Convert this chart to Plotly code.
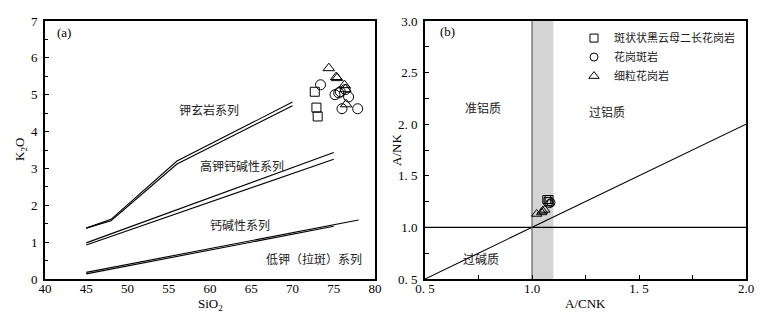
import plotly.graph_objects as go

# ---------------- data: panel (a) SiO2 vs K2O ----------------
sq_sio2 = [72.7, 72.9, 73.05]
sq_k2o = [5.08, 4.65, 4.41]
ci_sio2 = [73.4, 75.15, 75.8, 76.4, 76.8, 76.0, 77.9, 75.6]
ci_k2o = [5.27, 5.0, 5.08, 5.14, 4.94, 4.62, 4.62, 5.05]
tr_sio2 = [74.4, 75.3, 75.4, 76.3, 76.4, 76.5]
tr_k2o = [5.72, 5.48, 5.45, 5.26, 5.15, 4.74]

# boundary lines (double lines)
sho_a_x = [45, 48, 56, 70]
sho_a_y = [1.38, 1.62, 3.20, 4.80]
sho_b_x = [45, 48, 56, 70]
sho_b_y = [1.38, 1.58, 3.12, 4.70]
hk_a_x = [45, 75]
hk_a_y = [0.98, 3.43]
hk_b_x = [45, 75]
hk_b_y = [0.92, 3.25]
lk_a_x = [45, 78]
lk_a_y = [0.18, 1.60]
lk_b_x = [45, 75]
lk_b_y = [0.14, 1.43]

a_xticks = [40, 45, 50, 55, 60, 65, 70, 75, 80]
a_yticks = [0, 1, 2, 3, 4, 5, 6, 7]

# ---------------- data: panel (b) A/CNK vs A/NK ----------------
sq_acnk = [1.069, 1.080, 1.075]
sq_ank = [1.27, 1.27, 1.25]
ci_acnk = [1.089, 1.082]
ci_ank = [1.24, 1.23]
tr_acnk = [1.022, 1.045, 1.060, 1.050]
tr_ank = [1.13, 1.145, 1.17, 1.16]

band_x = [1.0, 1.1]
vline_x = 1.0
hline_y = 1.0
diag_x = [0.5, 2.0]
diag_y = [0.5, 2.0]

b_xticks = [0.5, 1.0, 1.5, 2.0]
b_xticktext = ["0. 5", "1.0", "1. 5", "2.0"]
b_yticks = [0.5, 1.0, 1.5, 2.0, 2.5, 3.0]
b_yticktext = ["0. 5", "1.0", "1. 5", "2. 0", "2.5", "3.0"]

legend_names = ["斑状状黑云母二长花岗岩", "花岗斑岩", "细粒花岗岩"]

# ---------------- figure ----------------
W, H = 766, 313
MT, MB = 21, 34
SERIF = "Liberation Serif, Times New Roman, serif"
CJK = "Noto Sans CJK SC"

fig = go.Figure()

line_style = dict(color="black", width=1.1)
for xs, ys in [(sho_a_x, sho_a_y), (sho_b_x, sho_b_y), (hk_a_x, hk_a_y),
               (hk_b_x, hk_b_y), (lk_a_x, lk_a_y), (lk_b_x, lk_b_y)]:
    fig.add_trace(go.Scatter(x=xs, y=ys, mode="lines", line=line_style,
                             showlegend=False, hoverinfo="skip",
                             xaxis="x", yaxis="y"))

# panel (b) reference lines
fig.add_trace(go.Scatter(x=diag_x, y=diag_y, mode="lines", line=line_style,
                         showlegend=False, hoverinfo="skip", xaxis="x2", yaxis="y2"))
fig.add_trace(go.Scatter(x=[0.5, 2.0], y=[hline_y, hline_y], mode="lines", line=line_style,
                         showlegend=False, hoverinfo="skip", xaxis="x2", yaxis="y2"))
fig.add_trace(go.Scatter(x=[vline_x, vline_x], y=[0.5, 3.0], mode="lines",
                         line=dict(color="#555555", width=1.1),
                         showlegend=False, hoverinfo="skip", xaxis="x2", yaxis="y2"))

fig.add_trace(go.Scatter(x=sq_sio2, y=sq_k2o, mode="markers",
                         marker=dict(symbol="square-open", size=9, color="black", line=dict(width=1)),
                         showlegend=False, xaxis="x", yaxis="y"))
fig.add_trace(go.Scatter(x=ci_sio2, y=ci_k2o, mode="markers",
                         marker=dict(symbol="circle-open", size=10, color="black", line=dict(width=1)),
                         showlegend=False, xaxis="x", yaxis="y"))
fig.add_trace(go.Scatter(x=tr_sio2, y=tr_k2o, mode="markers",
                         marker=dict(symbol="triangle-up-open", size=10, color="black", line=dict(width=1)),
                         showlegend=False, xaxis="x", yaxis="y"))

fig.add_trace(go.Scatter(x=sq_acnk, y=sq_ank, mode="markers", name=legend_names[0],
                         marker=dict(symbol="square-open", size=8, color="black", line=dict(width=1)),
                         xaxis="x2", yaxis="y2"))
fig.add_trace(go.Scatter(x=ci_acnk, y=ci_ank, mode="markers", name=legend_names[1],
                         marker=dict(symbol="circle-open", size=8, color="black", line=dict(width=1)),
                         xaxis="x2", yaxis="y2"))
fig.add_trace(go.Scatter(x=tr_acnk, y=tr_ank, mode="markers", name=legend_names[2],
                         marker=dict(symbol="triangle-up-open", size=9, color="black", line=dict(width=1)),
                         xaxis="x2", yaxis="y2"))

dom_a = [45 / W, 375 / W]
dom_b = [425 / W, 746 / W]

axis_common = dict(showline=True, linecolor="black", linewidth=2, mirror=True,
                   showgrid=False, zeroline=False, automargin=False,
                   tickfont=dict(family=SERIF, size=13, color="black"))

fig.update_layout(
    width=W, height=H,
    margin=dict(l=0, r=0, t=MT, b=MB, autoexpand=False),
    paper_bgcolor="white", plot_bgcolor="white",
    xaxis=dict(domain=dom_a, range=[40, 80], tickvals=a_xticks, ticks="",
               anchor="y", ticklabelstandoff=-4, **axis_common),
    yaxis=dict(domain=[0, 1], range=[0, 7], tickvals=a_yticks, ticks="inside", ticklen=4,
               tickcolor="black", anchor="x", ticklabelstandoff=3,
               minor=dict(dtick=0.5, ticks="inside", ticklen=3, tickcolor="black"),
               **axis_common),
    xaxis2=dict(domain=dom_b, range=[0.5, 2.0], tickvals=b_xticks, ticktext=b_xticktext,
                ticks="inside", ticklen=4, tickcolor="black", anchor="y2", ticklabelstandoff=-4,
                minor=dict(dtick=0.25, ticks="inside", ticklen=4, tickcolor="black"),
                **axis_common),
    yaxis2=dict(domain=[0, 1], range=[0.5, 3.0], tickvals=b_yticks, ticktext=b_yticktext,
                ticks="inside", ticklen=4, tickcolor="black", anchor="x2", ticklabelstandoff=3,
                minor=dict(dtick=0.25, ticks="inside", ticklen=4, tickcolor="black"),
                **axis_common),
    legend=dict(x=574 / W, y=0.99, xanchor="left", yanchor="top",
                bgcolor="rgba(0,0,0,0)", borderwidth=0,
                font=dict(family=CJK, size=11, color="#222222"),
                itemwidth=30, tracegroupgap=0),
    shapes=[dict(type="rect", xref="x2", yref="y2 domain", x0=band_x[0], x1=band_x[1],
                 y0=0, y1=1, fillcolor="#d4d4d4", line=dict(width=0), layer="below")],
)

cjk_font = dict(family=CJK, size=12, color="#222222")
annos = [
    dict(xref="x", yref="y", x=59.9, y=4.6, text="钾玄岩系列"),
    dict(xref="x", yref="y", x=63.9, y=3.08, text="高钾钙碱性系列"),
    dict(xref="x", yref="y", x=63.6, y=1.47, text="钙碱性系列"),
    dict(xref="x", yref="y", x=72.6, y=0.56, text="低钾（拉斑）系列"),
    dict(xref="x2", yref="y2", x=0.77, y=2.16, text="准铝质"),
    dict(xref="x2", yref="y2", x=1.35, y=2.12, text="过铝质"),
    dict(xref="x2", yref="y2", x=0.76, y=0.70, text="过碱质"),
]
for a in annos:
    fig.add_annotation(showarrow=False, font=cjk_font, xanchor="center", yanchor="middle", **a)

serif_font = dict(family=SERIF, size=13, color="black")
fig.add_annotation(xref="x", yref="y", x=42.3, y=6.7, text="(a)", showarrow=False,
                   xanchor="center", yanchor="middle", font=serif_font)
fig.add_annotation(xref="x2", yref="y2", x=0.605, y=2.9, text="(b)", showarrow=False,
                   xanchor="center", yanchor="middle", font=serif_font)

# axis titles (placed as annotations relative to each axis domain)
fig.add_annotation(xref="x domain", yref="paper", x=0.5, y=-0.06, yanchor="top", xanchor="center",
                   text="SiO<sub>2</sub>", showarrow=False, font=serif_font)
fig.add_annotation(xref="x2 domain", yref="paper", x=0.5, y=-0.06, yanchor="top", xanchor="center",
                   text="A/CNK", showarrow=False, font=serif_font)
fig.add_annotation(xref="paper", yref="y domain", x=20 / W, y=0.5, textangle=-90,
                   xanchor="center", yanchor="middle",
                   text="K<sub>2</sub>O", showarrow=False, font=serif_font)
fig.add_annotation(xref="paper", yref="y2 domain", x=396 / W, y=0.5, textangle=-90,
                   xanchor="center", yanchor="middle",
                   text="A/NK", showarrow=False, font=serif_font)

fig.write_html("out.html", config={"displayModeBar": False},
               post_script="document.body.style.margin='0';")
